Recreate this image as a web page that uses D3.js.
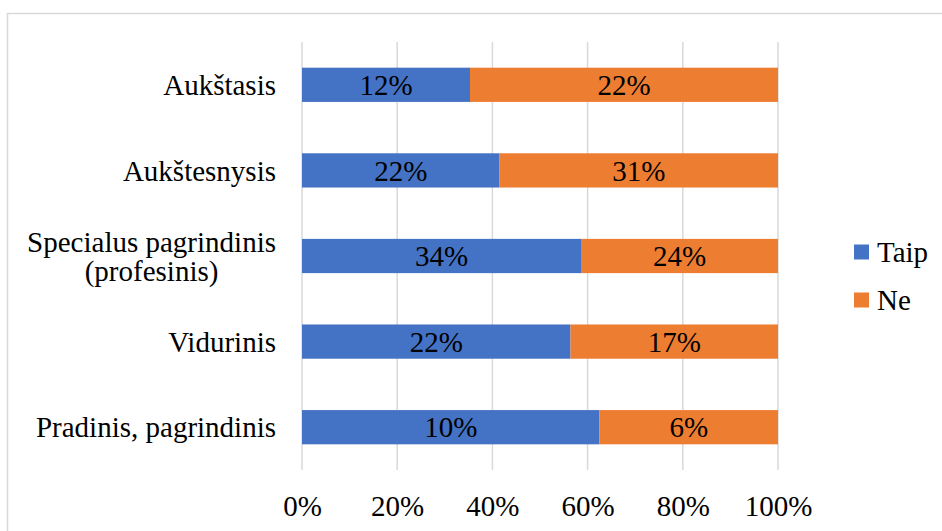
<!DOCTYPE html>
<html>
<head>
<meta charset="utf-8">
<script src="https://cdn.jsdelivr.net/npm/d3@7"></script>
</head>
<body style="margin:0;background:#fff">
<svg id="chart" width="942" height="531" style="display:block"></svg>
<script>
// Education level (top to bottom) and answer shares
const categories = [
  ["Aukštasis"],
  ["Aukštesnysis"],
  ["Specialus pagrindinis", "(profesinis)"],
  ["Vidurinis"],
  ["Pradinis, pagrindinis"]
];
const taip = [12, 22, 34, 22, 10];
const ne = [22, 31, 24, 17, 6];
const seriesNames = ["Taip", "Ne"];
const seriesColors = ["#4472C4", "#ED7D31"];
const tickValues = [0, 0.2, 0.4, 0.6, 0.8, 1.0];

const FONT = "Liberation Serif";
const fontSize = 29;
const svg = d3.select("#chart");

function styleText(sel) {
  return sel.style("font-family", FONT).attr("font-size", fontSize).attr("fill", "#000");
}

// chart frame
svg.append("rect")
  .attr("x", 7.5).attr("y", 13.5)
  .attr("width", 1000).attr("height", 1000)
  .attr("fill", "none").attr("stroke", "#d9d9d9").attr("stroke-width", 1.5);

const plot = { left: 302, right: 778, top: 42, bottom: 470 };

const x = d3.scaleLinear().domain([0, 1]).range([plot.left, plot.right]);
const keys = categories.map((c, i) => i);
const y = d3.scaleBand().domain(keys).range([plot.top, plot.bottom]).paddingInner(0.6).paddingOuter(0.3);

// normalized (100%) stack
const rows = keys.map(i => ({ i, Taip: taip[i], Ne: ne[i] }));
const stack = d3.stack().keys(seriesNames).offset(d3.stackOffsetExpand);
const layers = stack(rows);

// vertical gridlines
svg.append("g").selectAll("line").data(tickValues).join("line")
  .attr("x1", d => x(d)).attr("x2", d => x(d))
  .attr("y1", plot.top).attr("y2", plot.bottom)
  .attr("stroke", "#d9d9d9").attr("stroke-width", 1.5);

// x axis labels
const xAxis = d3.axisBottom(x).tickValues(tickValues).tickFormat(d3.format(".0%")).tickSize(0).tickPadding(0);
const gx = svg.append("g").attr("transform", `translate(0, ${plot.bottom + 36})`).call(xAxis);
gx.select(".domain").remove();
gx.attr("font-family", null).attr("font-size", null);
styleText(gx.selectAll("text")).attr("dy", "0.35em");

// bars
const rawValues = { Taip: taip, Ne: ne };
layers.forEach((layer, li) => {
  const g = svg.append("g");
  g.selectAll("rect").data(layer).join("rect")
    .attr("x", d => x(d[0]))
    .attr("width", d => x(d[1]) - x(d[0]))
    .attr("y", d => y(d.data.i))
    .attr("height", y.bandwidth())
    .attr("fill", seriesColors[li]);
  styleText(g.selectAll("text").data(layer).join("text"))
    .attr("x", d => (x(d[0]) + x(d[1])) / 2)
    .attr("y", d => y(d.data.i) + y.bandwidth() / 2)
    .attr("dy", "0.35em")
    .attr("text-anchor", "middle")
    .text(d => rawValues[layer.key][d.data.i] + "%");
});

// category labels, right aligned as a block, lines centred within the block
const labelRight = 276;
const lineHeight = 29;
keys.forEach(i => {
  const lines = categories[i];
  const g = svg.append("g");
  const cy = y(i) + y.bandwidth() / 2;
  const texts = lines.map((ln, k) => styleText(g.append("text"))
    .attr("text-anchor", "middle")
    .attr("y", cy + (k - (lines.length - 1) / 2) * lineHeight)
    .attr("dy", "0.35em")
    .text(ln));
  const widths = texts.map(t => t.node().getComputedTextLength());
  const w = Math.max(...widths);
  texts.forEach(t => t.attr("x", labelRight - w / 2));
});

// legend
const legend = svg.append("g");
seriesNames.forEach((name, k) => {
  const ly = 252 + k * 48;
  legend.append("rect").attr("x", 854).attr("y", ly - 7.5).attr("width", 15).attr("height", 15).attr("fill", seriesColors[k]);
  styleText(legend.append("text")).attr("x", 877).attr("y", ly).attr("dy", "0.35em").text(name);
});
</script>
</body>
</html>
